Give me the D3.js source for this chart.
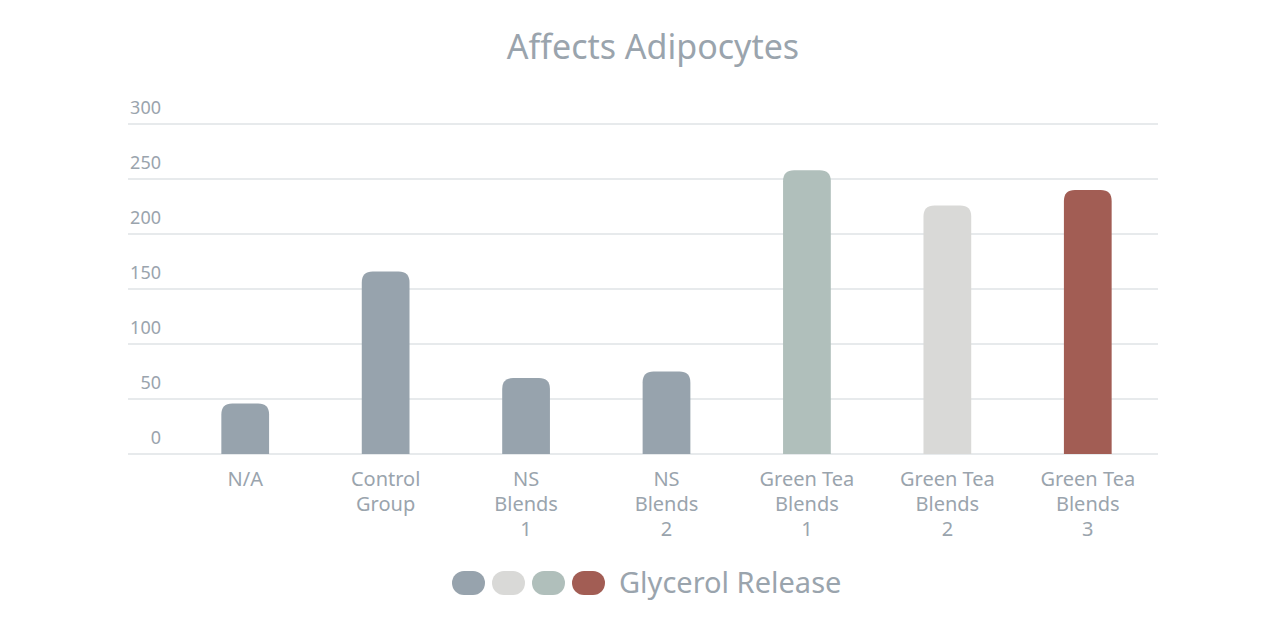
<!DOCTYPE html>
<html><head><meta charset="utf-8">
<script src="https://cdn.jsdelivr.net/npm/d3@7"></script>
<style>body{margin:0;background:#fff}</style></head>
<body><svg id="c" width="1280" height="640"></svg>
<script>
const categories = [["N/A"], ["Control", "Group"], ["NS", "Blends", "1"], ["NS", "Blends", "2"],
  ["Green Tea", "Blends", "1"], ["Green Tea", "Blends", "2"], ["Green Tea", "Blends", "3"]];
const values = [46, 166, 69, 75, 258, 226, 240];
const barColors = ["#97a3ad", "#97a3ad", "#97a3ad", "#97a3ad", "#b0bfbb", "#d9d9d7", "#a25d54"];
const yTicks = [0, 50, 100, 150, 200, 250, 300];
const legendColors = ["#97a3ad", "#d9d9d7", "#b0bfbb", "#a25d54"];
const txt = "#9aa4ad", font = "Noto Sans, sans-serif";

const svg = d3.select("#c");
const x = d3.scaleBand().domain(d3.range(categories.length)).range([175, 1158]).paddingInner(0.66).paddingOuter(0.33);
const y = d3.scaleLinear().domain([0, 300]).range([454, 124]);

svg.append("text").attr("x", 653).attr("y", 59).attr("text-anchor", "middle")
  .attr("font-family", font).attr("font-size", 34).attr("fill", txt).text("Affects Adipocytes");

const g = svg.append("g");
yTicks.forEach(t => {
  g.append("line").attr("x1", 128).attr("x2", 1158).attr("y1", y(t)).attr("y2", y(t))
    .attr("stroke", "#cfd5da").attr("stroke-width", 1.2);
  g.append("text").attr("x", 161).attr("y", y(t) - 10).attr("text-anchor", "end")
    .attr("font-family", font).attr("font-size", 18).attr("fill", txt).text(t);
});

const r = 11;
values.forEach((v, i) => {
  const x0 = x(i), w = x.bandwidth(), top = y(v), bot = y(0);
  const p = `M${x0},${bot}V${top + r}Q${x0},${top} ${x0 + r},${top}H${x0 + w - r}Q${x0 + w},${top} ${x0 + w},${top + r}V${bot}Z`;
  svg.append("path").attr("d", p).attr("fill", barColors[i]);
  categories[i].forEach((line, j) => {
    svg.append("text").attr("x", x0 + w / 2).attr("y", 486 + j * 25).attr("text-anchor", "middle")
      .attr("font-family", font).attr("font-size", 20).attr("fill", txt).text(line);
  });
});

legendColors.forEach((c, i) => {
  svg.append("rect").attr("x", 452 + i * 40).attr("y", 571).attr("width", 33).attr("height", 24)
    .attr("rx", 12).attr("fill", c);
});
svg.append("text").attr("x", 619).attr("y", 593).attr("font-family", font).attr("font-size", 29)
  .attr("fill", txt).text("Glycerol Release");
</script></body></html>
